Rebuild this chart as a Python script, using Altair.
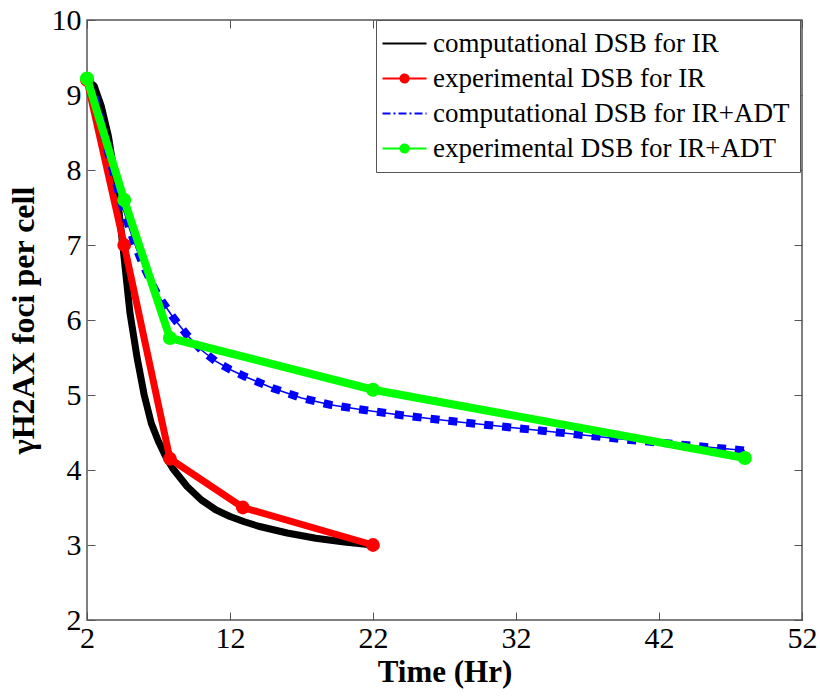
import altair as alt
import pandas as pd

FONT = "'Liberation Serif', 'Times New Roman', Times, serif"

SERIES = [
    "computational DSB for IR",
    "experimental DSB for IR",
    "computational DSB for IR+ADT",
    "experimental DSB for IR+ADT",
]
COLORS = ["#000000", "#ff0000", "#0000ff", "#00ff00"]

comp_ir_time = [2, 2.5, 3, 3.5, 4, 4.5, 5, 5.5, 6, 6.5, 7, 7.5, 8, 9, 10, 11, 12, 13, 14, 16, 18, 20, 22]
comp_ir_value = [9.2, 9.12, 8.85, 8.45, 7.85, 7.0, 6.1, 5.5, 5.0, 4.62, 4.38, 4.18, 4.02, 3.78, 3.6,
                 3.47, 3.38, 3.31, 3.25, 3.16, 3.09, 3.04, 3.0]

exp_ir_time = [2, 4.6, 7.8, 12.9, 22]
exp_ir_value = [9.2, 7.0, 4.15, 3.5, 3.0]

comp_adt_time = [2, 2.5, 3, 3.5, 4, 4.5, 5, 5.5, 6, 6.5, 7, 8, 9, 10, 11, 12, 13, 14, 15, 17, 19, 21,
                 24, 28, 32, 36, 40, 44, 48]
comp_adt_value = [9.2, 9.0, 8.62, 8.22, 7.85, 7.5, 7.2, 6.93, 6.7, 6.5, 6.32, 6.04, 5.8, 5.6, 5.45, 5.34,
                  5.25, 5.17, 5.09, 4.96, 4.87, 4.81, 4.73, 4.64, 4.56, 4.48, 4.4, 4.33, 4.26]

exp_adt_time = [2, 4.6, 7.8, 22, 48]
exp_adt_value = [9.22, 7.6, 5.76, 5.07, 4.16]

x_ticks = [2, 12, 22, 32, 42, 52]
y_ticks = [2, 3, 4, 5, 6, 7, 8, 9, 10]

rows = []
for name, ts, vs in [
    (SERIES[0], comp_ir_time, comp_ir_value),
    (SERIES[1], exp_ir_time, exp_ir_value),
    (SERIES[2], comp_adt_time, comp_adt_value),
    (SERIES[3], exp_adt_time, exp_adt_value),
]:
    for t, v in zip(ts, vs):
        rows.append({"series": name, "time": t, "value": v})
df = pd.DataFrame(rows)

x_scale = alt.Scale(domain=[2, 52], nice=False, zero=False)
y_scale = alt.Scale(domain=[2, 10], nice=False, zero=False)
color_scale = alt.Scale(domain=SERIES, range=COLORS)


def circ(r):
    return f"M{-r},0A{r},{r},0,1,0,{r},0A{r},{r},0,1,0,{-r},0"


line_path = "M-2,0L2,0"
marker_path = line_path + circ(0.36) + circ(0.24) + circ(0.12) + circ(0.04)
shape_expr = (
    "indexof(['experimental DSB for IR','experimental DSB for IR+ADT'], datum.value) >= 0 ? '"
    + marker_path + "' : '" + line_path + "'"
)
dash_expr = "datum.value == 'computational DSB for IR+ADT' ? [8,3,2,3] : [1,0]"

legend = alt.Legend(
    title=None,
    orient="none",
    legendX=289,
    legendY=0,
    labelFont=FONT,
    labelFontSize=27,
    labelColor="black",
    labelLimit=600,
    labelOffset=15,
    symbolSize=484,
    symbolType=alt.ExprRef(expr=shape_expr),
    symbolDash=alt.ExprRef(expr=dash_expr),
    symbolStrokeWidth=2.2,
    symbolOffset=5,
    padding=10,
    rowPadding=7,
    strokeColor="#555555",
    fillColor="white",
    cornerRadius=0,
)

x_main = alt.Axis(
    orient="bottom", values=x_ticks, ticks=False, tickSize=0, domain=False, grid=False,
    labelFont=FONT, labelFontSize=30, labelColor="black", labelPadding=27,
    labelBaseline="alphabetic", labelFlush=False, labelOverlap=False,
    title="Time (Hr)", titleFont=FONT, titleFontSize=31, titleFontWeight="bold",
    titleColor="black", titleX=357.5, titleY=61, titleBaseline="alphabetic", titleAlign="center",
)
y_main = alt.Axis(
    orient="left", values=y_ticks, ticks=False, tickSize=0, domain=False, grid=False,
    labelFont=FONT, labelFontSize=30, labelColor="black", labelPadding=6,
    labelBaseline="middle", labelAlign="right", labelFlush=False, labelOverlap=False,
    title="γH2AX foci per cell", titleFont=FONT, titleFontSize=32, titleFontWeight="bold",
    titleColor="black", titleX=-54, titleY=300, titleAngle=270, titleAlign="center",
    titleBaseline="alphabetic",
)


def tick_axis(orient, values, offset):
    return alt.Axis(
        orient=orient, values=values, offset=offset, labels=False, domain=False, grid=False,
        ticks=True, tickSize=8, tickColor="#555555", tickWidth=1, title=None,
    )


base = alt.Chart(df)


def series_layer(name, mark, first=False):
    return mark.encode(
        x=alt.X("time:Q", scale=x_scale, axis=x_main if first else None),
        y=alt.Y("value:Q", scale=y_scale, axis=y_main if first else None),
        color=alt.Color("series:N", scale=color_scale, legend=legend if first else None),
    ).transform_filter(alt.datum.series == name)


l_black = series_layer(SERIES[0], base.mark_line(strokeWidth=7, strokeJoin="round", strokeCap="round"), first=True)
l_red = series_layer(SERIES[1], base.mark_line(strokeWidth=7, strokeJoin="round"))
p_red = series_layer(SERIES[1], base.mark_circle(size=190, opacity=1))
l_blue_thin = series_layer(SERIES[2], base.mark_line(strokeWidth=1.5))
l_blue_dash = series_layer(SERIES[2], base.mark_line(strokeWidth=8, strokeDash=[9, 9]))
l_green = series_layer(SERIES[3], base.mark_line(strokeWidth=8, strokeJoin="round"))
p_green = series_layer(SERIES[3], base.mark_circle(size=200, opacity=1))

ticks_a = base.mark_line(opacity=0).encode(
    x=alt.X("time:Q", scale=x_scale, axis=tick_axis("top", x_ticks, -600)),
    y=alt.Y("value:Q", scale=y_scale, axis=tick_axis("right", y_ticks, -715)),
)
ticks_b = base.mark_line(opacity=0).encode(
    x=alt.X("time:Q", scale=x_scale, axis=tick_axis("bottom", x_ticks, -600)),
    y=alt.Y("value:Q", scale=y_scale, axis=tick_axis("left", y_ticks, -715)),
)

chart = (
    alt.layer(l_black, l_red, p_red, l_blue_thin, l_blue_dash, l_green, p_green, ticks_a, ticks_b)
    .resolve_axis(x="independent", y="independent")
    .properties(
        width=715,
        height=600,
        autosize=alt.AutoSizeParams(type="none"),
        padding={"left": 87, "top": 20, "right": 18, "bottom": 76},
        background="white",
    )
    .configure(font=FONT)
    .configure_view(stroke="#555555", strokeWidth=1.5)
)

chart.save("out.html", embed_options={"renderer": "svg", "actions": False})
